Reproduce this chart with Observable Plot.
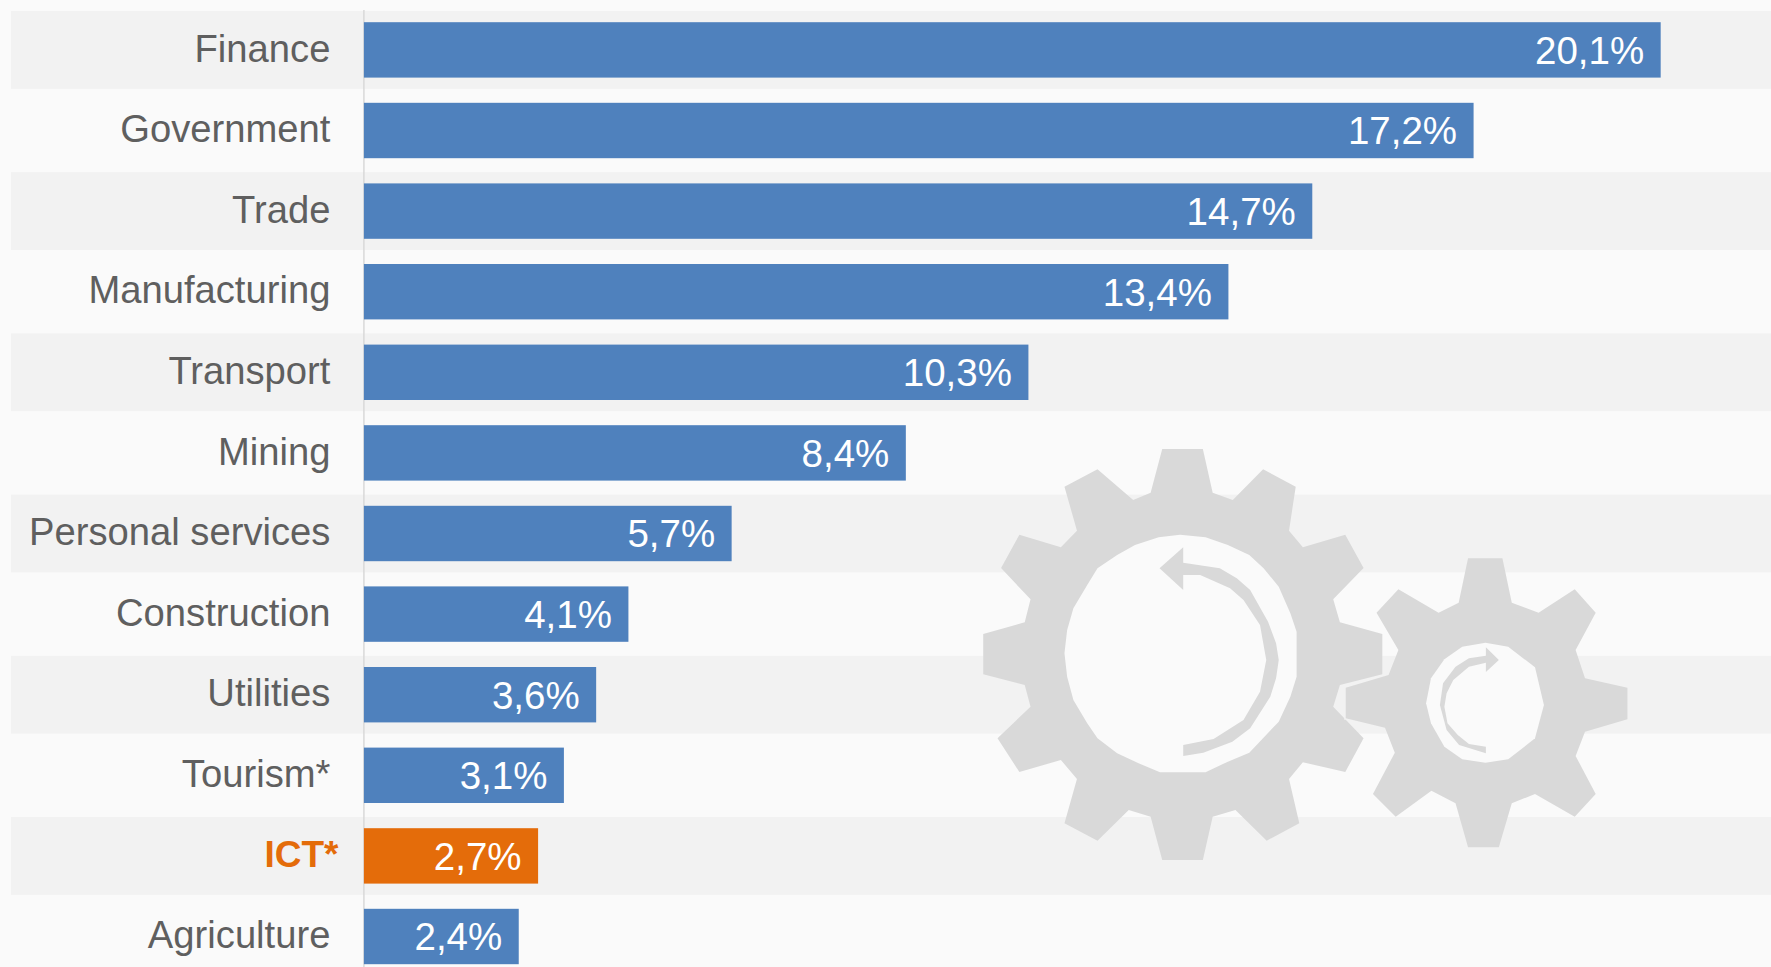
<!DOCTYPE html>
<html><head><meta charset="utf-8">
<script src="https://cdn.jsdelivr.net/npm/d3@7"></script>
<script src="https://cdn.jsdelivr.net/npm/@observablehq/plot@0.6"></script>
<style>html,body{margin:0;padding:0;background:#fafafa}svg{display:block}</style>
</head><body>
<div id="chart"></div>
<script>
const categories = ["Finance","Government","Trade","Manufacturing","Transport","Mining","Personal services","Construction","Utilities","Tourism*","ICT*","Agriculture"];
const values = [20.1,17.2,14.7,13.4,10.3,8.4,5.7,4.1,3.6,3.1,2.7,2.4];
const highlighted = "ICT*";
const stripedCategories = categories.filter((d,i)=>i%2===0);
const axisMin = -5.47, axisMax = 21.81;

// Gear icon outlines
const bigGear = [[453,57],[544,57],[566,188],[611,210],[679,118],[752,170],[737,302],[768,352],[863,314],[904,414],[836,508],[851,577],[946,612],[946,733],[851,765],[836,830],[904,925],[863,1026],[768,997],[737,1047],[760,1180],[687,1232],[617,1140],[566,1160],[544,1290],[453,1290],[427,1160],[378,1140],[308,1232],[234,1180],[262,1047],[226,990],[133,1026],[84,925],[158,830],[145,765],[52,733],[52,612],[145,577],[158,508],[92,414],[133,314],[226,352],[262,302],[234,170],[308,118],[388,210],[427,188]];
const bigHole = [[493,314],[550,322],[600,345],[648,375],[680,415],[714,470],[740,550],[754,605],[754,740],[740,800],[714,875],[648,968],[600,995],[550,1027],[448,1027],[400,1000],[352,970],[308,925],[285,880],[254,810],[240,740],[234,670],[240,600],[254,535],[285,465],[308,415],[352,375],[392,345],[445,322]];
const bigArrow = [[500,352],[500,398],[582,415],[620,445],[650,480],[690,575],[708,640],[714,690],[708,745],[695,800],[650,895],[610,935],[545,968],[500,978],[500,945],[568,927],[635,870],[672,785],[686,690],[672,585],[635,510],[605,475],[538,435],[500,435],[500,480],[447,415]];
const smallGear = [[1138,385],[1215,385],[1236,518],[1296,548],[1377,478],[1424,548],[1379,660],[1400,745],[1495,773],[1495,868],[1400,905],[1379,978],[1424,1092],[1377,1160],[1288,1092],[1236,1120],[1207,1252],[1138,1252],[1110,1120],[1056,1082],[976,1160],[925,1092],[974,968],[952,893],[864,865],[864,773],[960,735],[982,660],[933,548],[982,478],[1072,548],[1117,518]];
const smallHole = [[1177,638],[1228,650],[1288,712],[1308,825],[1288,925],[1228,988],[1177,998],[1125,988],[1085,950],[1055,880],[1044,820],[1055,745],[1085,688],[1125,650]];
const smallArrow = [[1178,652],[1207,690],[1178,726],[1178,698],[1140,710],[1105,750],[1090,790],[1085,830],[1092,880],[1115,915],[1140,942],[1178,950],[1178,970],[1118,945],[1090,900],[1075,825],[1082,760],[1110,710],[1140,685],[1178,677]];

const rows = categories.map((c,i)=>({category:c,value:values[i]}));
const font = '"Liberation Sans", Arial, sans-serif';

function gearsMark(){
  const g = d3.create("svg:g");
  const toPath = pts => "M" + pts.map(([x,y])=>[960+x/2.24, 430+y/3].join(",")).join("L") + "Z";
  g.append("clipPath").attr("id","big-gear-clip").append("path").attr("d",toPath(bigGear));
  const shapes = [[bigGear,"#d9d9d9"],[bigHole,"#fafafa"],[bigArrow,"#d9d9d9"],[smallGear,"#d9d9d9"],[smallHole,"#fafafa"],[smallArrow,"#d9d9d9"]];
  shapes.forEach(([pts,fill],i)=>{
    if (i===3) g.append("path").attr("d",toPath(pts)).attr("fill","none").attr("stroke","#fafafa").attr("stroke-width",3).attr("clip-path","url(#big-gear-clip)");
    g.append("path").attr("d",toPath(pts)).attr("fill",fill);
  });
  return g.node();
}

const chart = Plot.plot({
  width:1771, height:967,
  marginTop:0, marginBottom:0, marginLeft:0, marginRight:0,
  style:{background:"#fafafa",fontFamily:font},
  x:{domain:[axisMin,axisMax],range:[11,1771],axis:null},
  y:{type:"band",domain:categories,range:[9.6,976.8],padding:0,round:false,axis:null},
  marks:[
    Plot.barX(stripedCategories,{x1:()=>axisMin,x2:()=>axisMax,y:d=>d,fill:"#f2f2f2",insetTop:1.4,insetBottom:1.4}),
    gearsMark,
    Plot.ruleX([0],{stroke:"#d9d9d9",strokeWidth:1.5,dx:-0.5,insetTop:10}),
    Plot.barX(rows,{x1:()=>0,x2:"value",y:"category",fill:d=>d.category===highlighted?"#e46c0a":"#4f81bd",insetTop:12.6,insetBottom:12.6}),
    Plot.text(rows.filter(d=>d.category!==highlighted),{x:()=>0,y:"category",text:"category",textAnchor:"end",dx:-34,dy:-1,fontSize:38.2,fill:"#5f5f5f"}),
    Plot.text(rows.filter(d=>d.category===highlighted),{x:()=>0,y:"category",text:"category",textAnchor:"end",dx:-26,dy:-1,fontSize:37,fontWeight:"bold",fill:"#e46c0a"}),
    Plot.text(rows,{x:"value",y:"category",text:d=>d.value.toFixed(1).replace(".",",")+"%",textAnchor:"end",dx:-17,dy:1,fontSize:38.5,fill:"#ffffff"})
  ]
});
document.getElementById("chart").append(chart);
</script>
</body></html>
